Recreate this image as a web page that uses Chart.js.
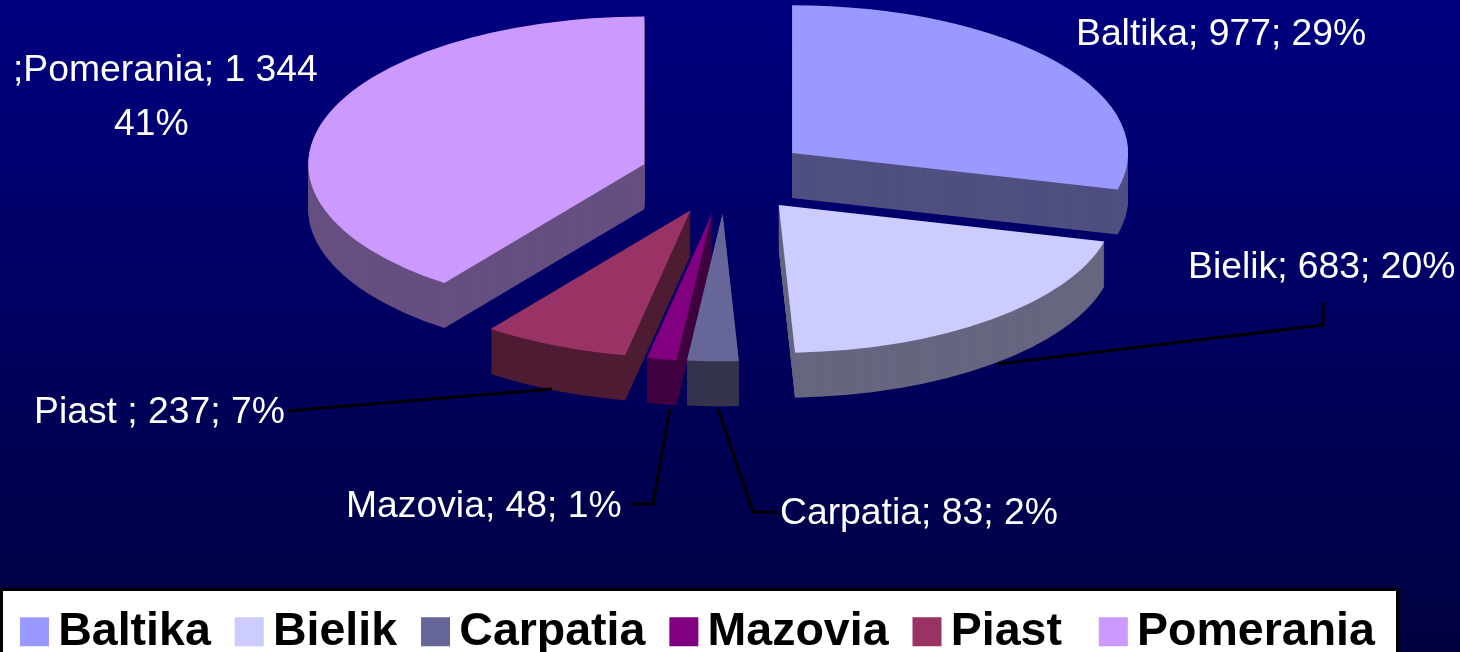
<!DOCTYPE html>
<html>
<head>
<meta charset="utf-8">
<style>html,body{margin:0;padding:0;background:#000050;overflow:hidden}canvas{display:block}</style>
<script src="https://cdn.jsdelivr.net/npm/chart.js@4"></script>
</head>
<body>
<canvas id="c" width="1460" height="652"></canvas>
<script>
const categories = ['Baltika', 'Bielik', 'Carpatia', 'Mazovia', 'Piast ', 'Pomerania'];
const values = [977, 683, 83, 48, 237, 1344];
const sliceColors = ['#9999ff', '#ccccff', '#666699', '#800080', '#993366', '#cc99ff'];
const wallColors = ['#4f4f80', '#666680', '#34344f', '#400040', '#4e1c33', '#664f80'];
const drawOrder = [0, 5, 4, 1, 3, 2];

const dataLabels = [
  {lines: ['Baltika; 977; 29%'], x: 1076, y: 45},
  {lines: ['Bielik; 683; 20%'], x: 1188, y: 278},
  {lines: ['Carpatia; 83; 2%'], x: 780, y: 524},
  {lines: ['Mazovia; 48; 1%'], x: 346, y: 517},
  {lines: ['Piast ; 237; 7%'], x: 34, y: 423},
  {lines: [';Pomerania; 1 344'], x: 13, y: 81},
  {lines: ['41%'], x: 114, y: 135}
];
const leaderLines = [
  [[998, 364], [1323, 325], [1323, 302]],
  [[287, 411], [552, 389]],
  [[630, 504], [653, 504], [670, 409]],
  [[718, 409], [753, 512], [777, 512]]
];

const pieCenter = {x: 725, y: 176};
const squash = 0.44;
const explode = 85;
const depth = 45;

function plainOptions(color) {
  return {backgroundColor: color, borderColor: 'transparent', borderWidth: 0, borderRadius: 0,
    offset: 0, spacing: 0, circular: true, borderAlign: 'center', borderJoinStyle: 'round',
    borderDash: [], borderDashOffset: 0, selfJoin: false};
}

const pie3d = {
  id: 'pie3d',
  beforeDraw(chart) {
    const ctx = chart.ctx;
    const g = ctx.createLinearGradient(0, 0, 0, 652);
    g.addColorStop(0, '#000080');
    g.addColorStop(1, '#000040');
    ctx.fillStyle = g;
    ctx.fillRect(0, 0, 1460, 652);
    ctx.fillStyle = '#000000';
    ctx.fillRect(0, 588, 1399, 64);
    ctx.fillStyle = '#ffffff';
    ctx.fillRect(3, 591, 1393, 61);
  },
  afterLayout(chart) {
    chart.legend.top += 13;
    chart.legend.bottom += 13;
  },
  beforeDatasetsDraw(chart) {
    const ctx = chart.ctx;
    const arcs = chart.getDatasetMeta(0).data;
    drawOrder.forEach(i => {
      const arc = arcs[i];
      const mid = (arc.startAngle + arc.endAngle) / 2;
      const dx = Math.cos(mid) * explode;
      const dy = Math.sin(mid) * explode * squash;
      for (let d = depth; d >= 0; d--) {
        const el = Object.create(arc);
        el.options = plainOptions(d === 0 ? sliceColors[i] : wallColors[i]);
        ctx.save();
        ctx.translate(pieCenter.x + dx, pieCenter.y + dy + d);
        ctx.scale(1, squash);
        ctx.translate(-arc.x, -arc.y);
        el.draw(ctx);
        ctx.restore();
      }
    });
    return false;
  },
  afterDraw(chart) {
    const ctx = chart.ctx;
    ctx.save();
    ctx.strokeStyle = '#000000';
    ctx.lineWidth = 3;
    ctx.lineJoin = 'miter';
    leaderLines.forEach(pts => {
      ctx.beginPath();
      pts.forEach((p, k) => k ? ctx.lineTo(p[0], p[1]) : ctx.moveTo(p[0], p[1]));
      ctx.stroke();
    });
    ctx.fillStyle = '#ffffff';
    ctx.font = '37.3px "Liberation Sans"';
    ctx.textAlign = 'left';
    ctx.textBaseline = 'alphabetic';
    dataLabels.forEach(l => l.lines.forEach(t => ctx.fillText(t, l.x, l.y)));
    ctx.restore();
  }
};

new Chart(document.getElementById('c'), {
  type: 'pie',
  data: {
    labels: categories,
    datasets: [{data: values, backgroundColor: sliceColors, borderWidth: 0}]
  },
  options: {
    responsive: false,
    animation: false,
    radius: 336,
    rotation: 0,
    layout: {padding: {left: -4}},
    plugins: {
      tooltip: {enabled: false},
      title: {display: false},
      legend: {
        display: true,
        position: 'bottom',
        align: 'start',
        labels: {
          usePointStyle: true,
          pointStyle: 'rect',
          boxWidth: 1,
          boxHeight: 29,
          padding: 38,
          color: '#000000',
          font: {family: '"Liberation Sans"', size: 46.5, weight: 'bold'}
        }
      }
    }
  },
  plugins: [pie3d]
});
</script>
</body>
</html>
